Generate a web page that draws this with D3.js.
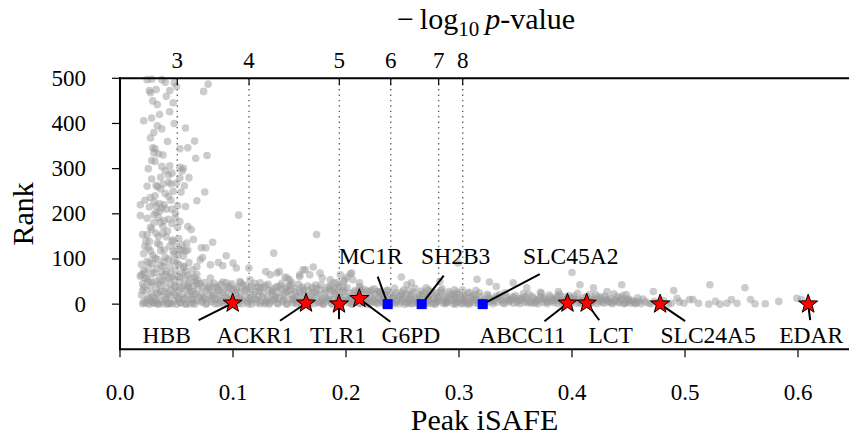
<!DOCTYPE html>
<html><head><meta charset="utf-8">
<script src="https://cdn.jsdelivr.net/npm/d3@7"></script>
<style>
body{margin:0;background:#fff}
svg{display:block}
text{font-family:"Liberation Serif","Times New Roman",serif;fill:#000}
</style>
</head><body><svg id="c" width="849" height="440"></svg>
<script>
// ---------- data (Peak iSAFE, Rank) ----------
const points = [
// left column, upper part
[0.024,497],[0.028,498],[0.037,497],[0.040,491],[0.026,473],[0.027,468],[0.032,475],[0.044,473],
[0.041,460],[0.048,490],[0.050,482],[0.078,487],[0.074,471],[0.033,442],[0.047,446],[0.044,426],
[0.021,406],[0.028,412],[0.033,395],[0.037,388],[0.058,390],[0.027,368],[0.029,346],[0.031,344],
[0.053,344],[0.060,346],[0.066,361],[0.077,329],[0.067,323],[0.030,335],[0.034,333],[0.028,318],
[0.031,316],[0.037,305],[0.044,306],[0.053,303],[0.055,295],[0.056,301],[0.040,295],[0.043,286],
[0.061,280],[0.053,279],[0.050,268],[0.028,277],[0.036,281],[0.024,261],[0.032,263],[0.038,266],
[0.043,270],[0.045,266],[0.054,248],[0.057,262],[0.075,248],[0.068,229],[0.018,220],[0.018,196],
[0.022,230],[0.027,236],[0.030,226],[0.032,217],[0.035,222],[0.037,213],[0.039,220],[0.043,239],
[0.046,210],[0.049,201],[0.051,218],[0.058,216],[0.030,198],[0.032,203],[0.034,191],[0.036,181],
[0.038,172],[0.043,188],[0.046,178],[0.053,183],[0.060,172],[0.063,165],[0.020,154],[0.024,154],
[0.028,165],[0.032,157],[0.022,128],[0.026,139],[0.038,157],[0.041,149],[0.046,139],[0.050,128],
[0.055,131],[0.059,135],[0.065,143],[0.072,125],[0.076,125],[0.082,137],[0.047,117],[0.053,120],
[0.058,117],[0.060,120],[0.094,107],[0.105,197],[0.174,154],[0.136,113],
[0.021,112],[0.025,125],[0.029,108],[0.033,135],[0.036,118],[0.040,104],[0.044,128],[0.048,112],
[0.052,145],[0.056,106],[0.034,150],[0.027,170],[0.042,162],[0.039,185],[0.031,240],[0.036,255],
[0.045,230],[0.024,190],[0.051,170],[0.047,250],
[0.023,140],[0.027,118],[0.031,102],[0.035,132],[0.039,120],[0.043,100],[0.047,142],[0.051,108],
[0.055,120],[0.030,180],[0.035,205],[0.041,210],[0.026,215],[0.049,190],[0.033,260],[0.040,245],
[0.025,300],[0.046,290],[0.038,330],[0.030,380],[0.042,360],[0.035,420],[0.048,400],[0.029,450],
// left column, dense lower part
[0.018,62],[0.019,88],[0.019,20],[0.020,45],[0.021,5],[0.021,74],
[0.023,2],[0.023,31],[0.024,56],[0.024,95],[0.025,14],[0.025,80],
[0.027,8],[0.027,40],[0.028,66],[0.028,24],[0.029,90],[0.029,3],
[0.031,50],[0.031,12],[0.032,78],[0.032,33],[0.033,1],[0.033,99],
[0.035,60],[0.035,20],[0.036,42],[0.036,86],[0.037,6],[0.037,70],
[0.039,28],[0.039,94],[0.040,52],[0.040,10],[0.041,72],[0.041,36],
[0.043,2],[0.043,58],[0.044,84],[0.044,18],[0.045,44],[0.045,68],
[0.047,26],[0.047,96],[0.048,7],[0.048,54],[0.049,76],[0.049,38],
[0.051,15],[0.051,62],[0.052,88],[0.052,30],[0.053,4],[0.053,48],
[0.055,70],[0.055,22],[0.056,40],[0.056,9],[0.057,82],[0.057,56],
[0.059,33],[0.059,1],[0.060,64],[0.060,18],[0.061,47],[0.061,92],
[0.063,12],[0.063,58],[0.064,28],[0.064,76],[0.065,40],[0.065,3],
[0.067,22],[0.067,50],[0.068,8],[0.068,66],[0.069,34],[0.070,16],
[0.020,1],[0.026,0],[0.030,2],[0.034,0],[0.038,1],[0.042,0],[0.046,1],[0.050,0],
[0.054,2],[0.058,0],[0.062,1],[0.066,0],[0.019,65],[0.022,69],
[0.022,58],[0.026,92],[0.030,70],[0.034,45],[0.038,84],[0.042,22],[0.046,60],[0.050,92],
[0.054,35],[0.058,72],[0.062,28],[0.066,60],[0.020,30],[0.024,10],[0.028,48],[0.032,6],
[0.036,28],[0.040,66],[0.044,2],[0.048,40],[0.052,12],[0.056,84],[0.060,42],[0.064,10],[0.068,45],
[0.021,38],[0.025,50],[0.029,16],[0.033,24],[0.037,52],[0.041,14],[0.045,30],[0.049,20],
[0.053,60],[0.057,14],[0.061,36],[0.065,22],[0.069,52],
// fringe above band
[0.071,98],[0.073,103],[0.068,83],[0.080,87],[0.087,92],[0.091,85],[0.100,91],[0.103,80],
[0.114,80],[0.129,72],[0.133,65],[0.139,69],[0.141,72],[0.146,60],[0.150,54],[0.159,65],
[0.164,76],[0.171,82],[0.177,69],[0.179,58],[0.186,54],[0.192,47],[0.201,60],[0.204,67],
[0.206,54],[0.212,30],[0.159,61],[0.162,76],[0.168,65],[0.195,65],[0.199,54],[0.115,54],
[0.124,47],[0.106,50],[0.094,47],[0.086,39],[0.080,58],[0.148,58],[0.152,47],[0.189,47],
[0.212,47],[0.205,69],[0.198,50],[0.249,60],[0.254,43],[0.258,47],[0.271,36],[0.283,50],
[0.296,32],[0.299,91],[0.316,55],[0.327,49],[0.333,39],[0.348,47],[0.360,36],[0.372,26],
[0.388,28],[0.400,70],[0.407,43],[0.419,36],[0.431,28],[0.444,43],[0.448,21],[0.230,28],
[0.212,39],[0.221,28],
// band 0.07-0.2
[0.072,4],[0.072,22],[0.073,38],[0.075,12],[0.076,30],[0.077,2],
[0.079,18],[0.080,42],[0.081,6],[0.083,26],[0.084,10],[0.085,36],
[0.087,1],[0.088,20],[0.089,44],[0.091,8],[0.092,32],[0.093,14],
[0.095,3],[0.096,24],[0.097,40],[0.099,11],[0.100,30],[0.101,5],
[0.103,19],[0.104,37],[0.105,2],[0.107,27],[0.108,9],[0.109,43],
[0.111,15],[0.112,33],[0.113,1],[0.115,22],[0.116,7],[0.117,39],
[0.119,12],[0.120,28],[0.121,3],[0.123,18],[0.124,35],[0.125,6],
[0.127,24],[0.128,1],[0.129,41],[0.131,14],[0.132,30],[0.133,4],
[0.135,20],[0.136,9],[0.137,36],[0.139,2],[0.140,26],[0.141,13],
[0.143,33],[0.144,6],[0.145,18],[0.147,1],[0.148,28],[0.149,40],
[0.151,10],[0.152,22],[0.153,3],[0.155,34],[0.156,15],[0.157,5],
[0.159,25],[0.160,1],[0.161,38],[0.163,12],[0.164,21],[0.165,6],
[0.167,30],[0.168,2],[0.169,16],[0.171,9],[0.172,27],[0.173,42],
[0.175,4],[0.176,19],[0.177,33],[0.179,11],[0.180,1],[0.181,24],
[0.183,7],[0.184,37],[0.185,15],[0.187,2],[0.188,29],[0.189,10],
[0.191,20],[0.192,5],[0.193,35],[0.195,13],[0.196,1],[0.197,26],
[0.199,8],[0.200,17],
[0.074,15],[0.078,33],[0.082,20],[0.086,12],[0.090,27],[0.094,17],[0.098,34],[0.102,23],
[0.106,14],[0.110,29],[0.114,10],[0.118,21],[0.122,38],[0.126,16],[0.130,8],[0.134,27],
[0.138,17],[0.142,40],[0.146,24],[0.150,31],[0.154,9],[0.158,18],[0.162,29],[0.166,12],
[0.170,36],[0.174,22],[0.178,7],[0.182,14],[0.186,32],[0.190,25],[0.194,19],[0.198,30],
[0.076,0],[0.084,1],[0.092,0],[0.100,0],[0.108,1],[0.116,0],[0.124,1],[0.132,0],
[0.140,1],[0.148,0],[0.156,1],[0.164,0],[0.172,1],[0.180,0],[0.188,0],[0.196,1],
[0.071,45],[0.075,48],[0.079,36],[0.083,46],[0.087,31],[0.091,49],[0.095,38],[0.099,45],
[0.103,33],[0.107,47],[0.111,40],[0.115,34],[0.119,46],[0.123,29],[0.127,37],[0.131,44],
[0.135,31],[0.139,39],[0.143,46],[0.147,35],[0.151,42],[0.155,28],[0.158,44],[0.162,33],
[0.166,40],[0.170,25],[0.174,35],[0.178,43],[0.182,30],[0.186,40],[0.190,34],[0.194,42],[0.198,37],
[0.073,7],[0.081,13],[0.089,5],[0.097,9],[0.105,12],[0.113,6],[0.121,10],[0.129,4],
[0.137,12],[0.145,9],[0.153,13],[0.161,5],[0.169,9],[0.177,3],[0.185,10],[0.193,7],
// band 0.2-0.32
[0.202,3],[0.203,24],[0.205,12],[0.206,1],[0.208,30],[0.209,8],
[0.211,18],[0.212,2],[0.214,27],[0.215,10],[0.217,4],[0.218,20],
[0.220,14],[0.221,1],[0.223,32],[0.224,7],[0.226,22],[0.227,3],
[0.229,13],[0.230,26],[0.232,5],[0.233,17],[0.235,1],[0.236,29],
[0.238,9],[0.239,21],[0.241,3],[0.242,14],[0.244,25],[0.245,6],
[0.247,1],[0.248,18],[0.250,11],[0.251,31],[0.253,4],[0.254,22],
[0.256,8],[0.257,15],[0.259,2],[0.260,27],[0.262,12],[0.263,5],
[0.265,20],[0.266,1],[0.268,10],[0.269,24],[0.271,3],[0.272,16],
[0.274,7],[0.275,28],[0.277,1],[0.278,13],[0.280,21],[0.281,5],
[0.283,9],[0.284,30],[0.286,2],[0.287,17],[0.289,11],[0.290,4],
[0.292,23],[0.293,8],[0.295,1],[0.296,15],[0.298,26],[0.299,6],
[0.301,12],[0.302,2],[0.304,19],[0.305,9],[0.307,1],[0.308,24],
[0.310,5],[0.311,14],[0.313,3],[0.314,21],[0.316,8],[0.317,1],
[0.319,16],[0.320,4],
[0.204,15],[0.207,6],[0.210,23],[0.213,11],[0.216,33],[0.219,5],[0.222,18],[0.225,12],
[0.228,28],[0.231,9],[0.234,21],[0.237,14],[0.240,4],[0.243,19],[0.246,10],[0.249,26],
[0.252,15],[0.255,2],[0.258,21],[0.261,7],[0.264,14],[0.267,29],[0.270,6],[0.273,20],
[0.276,11],[0.279,3],[0.282,16],[0.285,24],[0.288,7],[0.291,14],[0.294,19],[0.297,4],
[0.300,22],[0.303,10],[0.306,15],[0.309,3],[0.312,18],[0.315,12],[0.318,25],
[0.205,0],[0.213,1],[0.219,0],[0.228,1],[0.234,0],[0.243,1],[0.252,0],[0.258,1],
[0.264,0],[0.273,1],[0.279,0],[0.288,1],[0.297,0],[0.303,1],[0.309,0],[0.318,1],
[0.201,36],[0.207,26],[0.213,33],[0.219,29],[0.225,34],[0.231,24],[0.237,31],[0.243,35],
[0.249,20],[0.255,30],[0.261,35],[0.267,22],[0.273,32],[0.279,25],[0.285,34],[0.291,28],
[0.297,22],[0.303,31],[0.309,26],[0.315,30],
[0.201,10],[0.209,13],[0.217,9],[0.225,5],[0.233,9],[0.241,11],[0.249,6],[0.257,10],
[0.265,8],[0.273,12],[0.281,9],[0.289,5],[0.297,11],[0.305,6],[0.313,10],
// band 0.32-0.46
[0.322,10],[0.324,2],[0.326,18],[0.328,6],[0.330,1],[0.332,13],
[0.334,4],[0.336,21],[0.338,8],[0.340,1],[0.342,15],[0.344,5],
[0.346,11],[0.348,2],[0.350,19],[0.352,7],[0.354,1],[0.356,14],
[0.358,4],[0.360,9],[0.362,22],[0.364,2],[0.366,12],[0.368,6],
[0.370,1],[0.372,17],[0.374,4],[0.376,10],[0.378,1],[0.380,20],
[0.382,7],[0.384,3],[0.386,13],[0.388,1],[0.390,8],[0.392,16],
[0.394,3],[0.396,11],[0.398,1],[0.400,6],[0.402,18],[0.404,2],
[0.406,10],[0.408,4],[0.410,14],[0.412,1],[0.414,7],[0.416,21],
[0.418,3],[0.420,11],[0.422,1],[0.424,6],[0.426,15],[0.428,2],
[0.430,9],[0.432,4],[0.434,13],[0.436,1],[0.438,7],[0.440,17],
[0.442,3],[0.444,10],[0.446,1],[0.448,5],[0.450,12],[0.452,2],
[0.454,8],[0.456,1],[0.458,14],
[0.323,5],[0.327,12],[0.331,7],[0.335,15],[0.339,3],[0.343,10],[0.347,16],[0.351,4],
[0.355,9],[0.359,17],[0.363,6],[0.367,2],[0.371,10],[0.375,14],[0.379,5],[0.383,11],
[0.387,18],[0.391,3],[0.395,7],[0.399,14],[0.403,9],[0.407,2],[0.411,6],[0.415,12],
[0.419,8],[0.423,16],[0.427,5],[0.431,11],[0.435,3],[0.439,9],[0.443,14],[0.447,2],
[0.451,7],[0.455,4],[0.459,6],[0.461,1],[0.465,5],[0.470,1],[0.476,3],[0.481,8],
[0.488,2],[0.495,5],
[0.325,22],[0.333,18],[0.341,25],[0.349,14],[0.357,23],[0.365,17],[0.373,24],[0.381,15],
[0.389,22],[0.397,19],[0.405,24],[0.413,17],[0.421,21],[0.429,18],[0.437,23],[0.445,19],
[0.321,7],[0.329,9],[0.337,11],[0.345,8],[0.353,12],[0.361,3],[0.369,9],[0.377,6],
[0.385,8],[0.393,10],[0.401,12],[0.409,8],[0.417,5],[0.425,10],[0.433,7],[0.441,5],
[0.449,9],[0.457,3],
// sparse tail
[0.463,11],[0.468,2],[0.473,6],[0.472,28],[0.485,0],[0.490,30],[0.493,13],[0.499,2],
[0.504,10],[0.507,10],[0.512,2],[0.521,0],[0.522,43],[0.527,6],[0.531,0],[0.537,2],
[0.541,10],[0.546,2],[0.553,36],[0.558,10],[0.562,1],[0.571,1],[0.583,6],[0.599,13],[0.603,10]
];

const genes      = ["HBB","ACKR1","TLR1","G6PD","ABCC11","LCT","SLC24A5","EDAR"];
const geneIsafe  = [0.0997,0.1646,0.1938,0.2118,0.396,0.413,0.478,0.609];
const geneRank   = [2,2,0,12,2,2,0,0];

const pigGenes   = ["MC1R","SH2B3","SLC45A2"];
const pigIsafe   = [0.2369,0.267,0.321];
const pigRank    = [0,0,0];

const xTicks     = [0,0.1,0.2,0.3,0.4,0.5,0.6];
const yTicks     = [0,100,200,300,400,500];
const pvalTicks  = [3,4,5,6,7,8];
const pvalIsafe  = [0.0507,0.1142,0.1941,0.2396,0.2820,0.3033];

// ---------- layout ----------
const labelLayout = {
  HBB:{tx:-66,ty:40,lx:-34,ly:17}, ACKR1:{tx:-51,ty:40,lx:-26,ly:17.5},
  TLR1:{tx:-1,ty:39,lx:0,ly:15},   G6PD:{tx:51.5,ty:44.3,lx:31,ly:23},
  ABCC11:{tx:-45,ty:40,lx:-23,ly:18}, LCT:{tx:24,ty:40,lx:12.6,ly:17},
  SLC24A5:{tx:48,ty:39,lx:25,ly:17}, EDAR:{tx:3,ty:39,lx:2,ly:16},
  MC1R:{tx:-17,ty:-40,lx:-10,ly:-27.5}, SH2B3:{tx:34,ty:-40,lx:22,ly:-28.5},
  SLC45A2:{tx:88,ty:-40,lx:57,ly:-30}
};

const svg = d3.select("#c");
const L = 120, R = 849, T = 78.3, B = 349.3;
const x = d3.scaleLinear().domain([0, (R-L)/1130]).range([L, R]);
const y = d3.scaleLinear().domain([-100, 500]).range([B, T]);

// dotted p-value lines
svg.append("g").selectAll("line").data(pvalIsafe).join("line")
  .attr("x1", d => x(d)).attr("x2", d => x(d))
  .attr("y1", y(500)).attr("y2", y(0))
  .attr("stroke", "#666").attr("stroke-width", 1.4)
  .attr("stroke-dasharray", "1.4,4");

// scatter
svg.append("g").selectAll("circle").data(points).join("circle")
  .attr("cx", d => x(d[0])).attr("cy", d => y(d[1])).attr("r", 3.8)
  .attr("fill", "#999").attr("fill-opacity", 0.5);

// annotation lines
const allNames = genes.concat(pigGenes);
const allX = geneIsafe.concat(pigIsafe);
const allY = geneRank.concat(pigRank);
const ann = allNames.map((n,i) => ({n, px:x(allX[i]), py:y(allY[i])}));
svg.append("g").selectAll("line").data(ann).join("line")
  .attr("x1", d => d.px + labelLayout[d.n].lx).attr("y1", d => d.py + labelLayout[d.n].ly)
  .attr("x2", d => d.px).attr("y2", d => d.py)
  .attr("stroke", "#000").attr("stroke-width", 2);
svg.append("g").selectAll("text").data(ann).join("text")
  .attr("x", d => d.px + labelLayout[d.n].tx).attr("y", d => d.py + labelLayout[d.n].ty)
  .attr("text-anchor", "middle").attr("font-size", 23.5).text(d => d.n);

// blue squares
svg.append("g").selectAll("rect").data(pigIsafe).join("rect")
  .attr("x", (d,i) => x(d) - 5).attr("y", (d,i) => y(pigRank[i]) - 5)
  .attr("width", 10).attr("height", 10).attr("fill", "#0000ff");

// stars
function starPath(Ro, Ri) {
  const p = [];
  for (let i = 0; i < 10; i++) {
    const a = -Math.PI/2 + i*Math.PI/5, r = i % 2 ? Ri : Ro;
    p.push([r*Math.cos(a), r*Math.sin(a)]);
  }
  return "M" + p.map(q => q[0].toFixed(2)+","+q[1].toFixed(2)).join("L") + "Z";
}
svg.append("g").selectAll("path").data(geneIsafe).join("path")
  .attr("transform", (d,i) => `translate(${x(d)},${y(geneRank[i])})`)
  .attr("d", starPath(10, 4.1))
  .attr("fill", "#ff0000").attr("stroke", "#000").attr("stroke-width", 1);

// spines
const sp = svg.append("g").attr("stroke", "#000").attr("stroke-width", 2).attr("fill","none");
sp.append("line").attr("x1", L).attr("x2", L).attr("y1", T-1).attr("y2", B+1);
sp.append("line").attr("x1", L-1).attr("x2", R).attr("y1", B).attr("y2", B);
sp.append("line").attr("x1", L-1).attr("x2", R).attr("y1", T).attr("y2", T);

// left ticks
const gl = svg.append("g");
gl.selectAll("line").data(yTicks).join("line")
  .attr("x1", L-8).attr("x2", L).attr("y1", d => y(d)).attr("y2", d => y(d))
  .attr("stroke", "#000").attr("stroke-width", 1.2);
gl.selectAll("text").data(yTicks).join("text")
  .attr("x", 86).attr("y", d => y(d) + 7.5).attr("text-anchor", "end")
  .attr("font-size", 23).text(d => d);

// bottom ticks
const gb = svg.append("g");
gb.selectAll("line").data(xTicks).join("line")
  .attr("x1", d => x(d)).attr("x2", d => x(d)).attr("y1", B).attr("y2", B+8)
  .attr("stroke", "#000").attr("stroke-width", 1.2);
gb.selectAll("text").data(xTicks).join("text")
  .attr("x", d => x(d)).attr("y", 399.5).attr("text-anchor", "middle")
  .attr("font-size", 23).text(d => d3.format(".1f")(d));

// top ticks (p-value)
const gt = svg.append("g");
gt.selectAll("line").data(pvalIsafe).join("line")
  .attr("x1", d => x(d)).attr("x2", d => x(d)).attr("y1", T).attr("y2", T+7)
  .attr("stroke", "#000").attr("stroke-width", 1.2);
gt.selectAll("text").data(pvalTicks).join("text")
  .attr("x", (d,i) => x(pvalIsafe[i])).attr("y", 68).attr("text-anchor", "middle")
  .attr("font-size", 23).text(d => d);

// axis labels
svg.append("text").attr("x", (L+R)/2).attr("y", 430).attr("text-anchor", "middle")
  .attr("font-size", 30).text("Peak iSAFE");
svg.append("text").attr("transform", `translate(33,${(T+B)/2}) rotate(-90)`)
  .attr("text-anchor", "middle").attr("font-size", 30).text("Rank");

const tt = svg.append("text").attr("x", 486).attr("y", 29).attr("text-anchor", "middle")
  .attr("font-size", 30);
tt.append("tspan").text("\u2212\u2009log");
tt.append("tspan").attr("font-size", 21).attr("dy", 7).text("10");
tt.append("tspan").attr("dy", -7).attr("font-style", "italic").text("\u2009p");
tt.append("tspan").text("-value");
</script>
</body></html>
